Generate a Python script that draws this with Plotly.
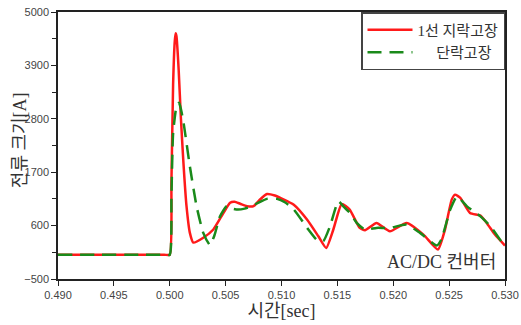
import plotly.graph_objects as go

# Red: 1선 지락고장
t_red = [0.490, 0.4995, 0.5000, 0.50015, 0.5003, 0.50045, 0.50053, 0.5006, 0.5008, 0.5010, 0.50121,
         0.5015, 0.5018, 0.50211, 0.5030, 0.5039, 0.5048, 0.5054, 0.5058, 0.5063, 0.5069,
         0.5075, 0.5080, 0.5087, 0.5094, 0.5099, 0.5111, 0.5123, 0.5133, 0.5140, 0.51464,
         0.51539, 0.5161, 0.5170, 0.51747, 0.5185, 0.5197, 0.5212, 0.5227, 0.5240, 0.52463,
         0.52523, 0.52553, 0.5260, 0.52687, 0.5278, 0.52836, 0.5291, 0.5300]
i_red = [0, 0, 0, 1500, 3500, 4400, 4560, 4500, 3800, 2800, 1950,
         1000, 450, 250, 350, 520, 860, 1070, 1090, 1050, 1000,
         1000, 1120, 1250, 1220, 1170, 1030, 720, 380, 140, 520,
         1046, 930, 553, 504, 655, 483, 655, 415, 107, 518,
         1135, 1238, 1170, 861, 806, 655, 415, 189]

# Green: 단락고장
t_grn = [0.490, 0.4995, 0.5000, 0.50015, 0.5003, 0.5006, 0.50083, 0.5010, 0.50125, 0.5018, 0.5024,
         0.5030, 0.5036, 0.5040, 0.5045, 0.5051, 0.5056, 0.5061, 0.5067, 0.5072, 0.5080,
         0.5087, 0.5096, 0.5103, 0.5111, 0.5124, 0.51315, 0.51374, 0.51434, 0.51509, 0.5156,
         0.51613, 0.51673, 0.51747, 0.5185, 0.5197, 0.5212, 0.5224, 0.5239, 0.5243, 0.5251,
         0.5257, 0.5266, 0.5278, 0.5287, 0.5300]
i_grn = [0, 0, 0, 1200, 2500, 3050, 3130, 3000, 2700, 1820, 1000,
         450, 200, 400, 790, 1000, 950, 930, 950, 990, 1080,
         1150, 1150, 1080, 930, 520, 310, 280, 586, 1100, 980,
         861, 655, 518, 553, 553, 620, 450, 190, 312, 929,
         1200, 997, 791, 586, 162]

y_ticks = [-500, 600, 1700, 2800, 3900, 5000]
x_ticks = [0.490, 0.495, 0.500, 0.505, 0.510, 0.515, 0.520, 0.525, 0.530]

serif = "Liberation Serif, Noto Sans CJK KR"
sans = "Liberation Sans, Arial"

fig = go.Figure()
fig.add_trace(go.Scatter(x=t_red, y=i_red, mode="lines", name="1선 지락고장",
                         line=dict(color="#ff1a1a", width=2.5, shape="spline", smoothing=0.5)))
fig.add_trace(go.Scatter(x=t_grn, y=i_grn, mode="lines", name="     단락고장",
                         line=dict(color="#1a8a1a", width=2.5, dash="14px,8px",
                                   shape="spline", smoothing=0.5)))

fig.update_layout(
    width=521, height=325,
    margin=dict(l=58, r=16, t=12, b=46),
    paper_bgcolor="white", plot_bgcolor="white",
    showlegend=True,
    legend=dict(x=1, y=1, xanchor="right", yanchor="top",
                bordercolor="#444", borderwidth=1.5, bgcolor="white",
                font=dict(family=serif, size=15, color="#333"),
                itemwidth=45),
    xaxis=dict(range=[0.490, 0.530], tickvals=x_ticks, automargin=False,
               ticktext=[f"{v:.3f}" for v in x_ticks],
               showgrid=False, zeroline=False, showline=True, linecolor="#222",
               linewidth=1.5, mirror=True, ticks="outside", ticklen=5,
               tickcolor="#222", tickfont=dict(family=sans, size=11, color="#444"),
               title=dict(text="시간[sec]", font=dict(family=serif, size=18, color="#333"),
                          standoff=3)),
    yaxis=dict(range=[-500, 5000], tickvals=y_ticks, automargin=False,
               showgrid=False, zeroline=False, showline=True, linecolor="#222",
               linewidth=1.5, mirror=True, ticks="outside", ticklen=5,
               tickcolor="#222", tickfont=dict(family=sans, size=11, color="#444"),
               minor=dict(tickvals=[50, 1150, 2250, 3350, 4450], ticks="outside",
                          ticklen=4, tickcolor="#222", showgrid=False)),
    annotations=[
        dict(text="AC/DC 컨버터", xref="paper", yref="paper", x=0.985, y=0.02,
             xanchor="right", yanchor="bottom", showarrow=False,
             font=dict(family=serif, size=18, color="#333")),
        dict(text="전류 크기[A]", xref="paper", yref="paper", x=-0.085, y=0.52,
             xanchor="center", yanchor="middle", textangle=-90, showarrow=False,
             font=dict(family=serif, size=18, color="#333")),
    ],
)

fig.write_html("out.html", config={"displayModeBar": False},
               post_script="document.body.style.margin='0';document.body.style.overflow='hidden';")
